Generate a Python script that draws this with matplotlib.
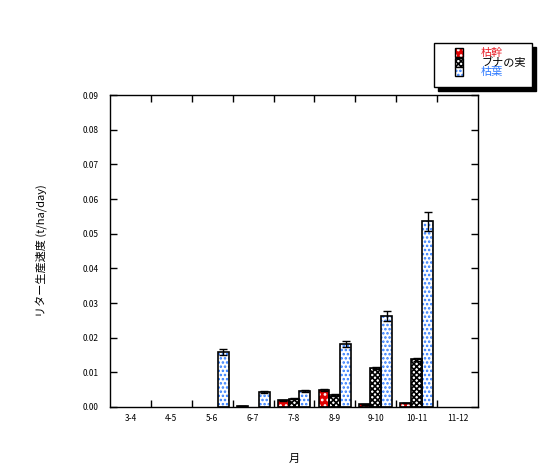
import numpy as np
import matplotlib
matplotlib.use("Agg")
import matplotlib.pyplot as plt
from matplotlib.patches import Patch, Rectangle

plt.rcParams['font.family'] = ['Noto Sans CJK JP', 'DejaVu Sans']
plt.rcParams['hatch.linewidth'] = 1.2

months = ['3-4', '4-5', '5-6', '6-7', '7-8', '8-9', '9-10', '10-11', '11-12']
series = ['枯幹', 'ブナの実', '枯葉']
nan = np.nan

# litter production rate (t/ha/day)
kare_miki = [nan, nan, nan, 0.0002, 0.0019, 0.0049, 0.0008, 0.00115, nan]
buna_mi = [nan, nan, nan, nan, 0.0024, 0.0035, 0.0112, 0.01375, nan]
kare_ha = [nan, nan, 0.0158, 0.0042, 0.0045, 0.0181, 0.0262, 0.0536, nan]

kare_miki_err = [nan, nan, nan, 0.0, 0.0001, 0.0002, 0.0001, 0.0001, nan]
buna_mi_err = [nan, nan, nan, nan, 0.0002, 0.0002, 0.0003, 0.0005, nan]
kare_ha_err = [nan, nan, 0.0008, 0.0003, 0.0003, 0.0008, 0.0014, 0.0027, nan]

values = [kare_miki, buna_mi, kare_ha]
errors = [kare_miki_err, buna_mi_err, kare_ha_err]
face = ['#e00000', 'white', 'white']
hatch_col = ['white', 'black', '#2f7bff']
hatches = ['...', 'xxxxxx', '....']
text_col = ['#e8202a', 'black', '#2f7bff']

fig = plt.figure(figsize=(5.52, 4.69), dpi=100)
ax = fig.add_axes([0.1993, 0.1322, 0.6667, 0.6652])

x = np.arange(len(months))
w = 0.267
for i in range(3):
    pos = x + (i - 1) * w
    # hatch layer, then black outline on top
    ax.bar(pos, values[i], w, color=face[i], edgecolor=hatch_col[i],
           hatch=hatches[i], linewidth=0, zorder=2)
    ax.bar(pos, values[i], w, fill=False, edgecolor='black', linewidth=1.2, zorder=3)
    ax.errorbar(pos, values[i], yerr=errors[i], fmt='none', ecolor='black',
                elinewidth=1, capsize=3, capthick=1, zorder=4)

ax.set_xlim(-0.5, len(months) - 0.5)
ax.set_ylim(0, 0.09)
ax.set_yticks(np.arange(0, 0.0901, 0.01))
ax.set_yticklabels(['%.2f' % v for v in np.arange(0, 0.0901, 0.01)])
ax.set_xticks(x)
ax.set_xticklabels(months)
ax.set_xticks(np.arange(0.5, len(months) - 1, 1), minor=True)
ax.tick_params(axis='x', which='major', length=0, labelsize=6, pad=5)
ax.tick_params(axis='x', which='minor', direction='in', length=5, top=True, width=1)
ax.tick_params(axis='y', direction='in', length=5, right=True, labelsize=6, pad=8, width=1)
for s in ax.spines.values():
    s.set_linewidth(1)

ax.set_xlabel('月', fontsize=8, labelpad=22)
ax.set_ylabel('リター生産速度 (t/ha/day)', fontsize=8, labelpad=26)

# legend frame with a solid shadow, drawn by hand
sx, sy = 4 / 552, 4 / 469
x0, y0, fw, fh = 434 / 552, 1 - 87 / 469, 98 / 552, 44 / 469
fig.add_artist(Rectangle((x0 + sx, y0 - sy), fw, fh, transform=fig.transFigure,
                         facecolor='black', edgecolor='black', zorder=5))
fig.add_artist(Rectangle((x0, y0), fw, fh, transform=fig.transFigure,
                         facecolor='white', edgecolor='black', linewidth=1, zorder=6))

handles = [(Patch(facecolor=face[i], edgecolor=hatch_col[i], hatch=hatches[i], linewidth=0),
            Patch(fill=False, edgecolor='black', linewidth=1)) for i in range(3)]
leg = fig.legend(handles, series, loc='upper left', bbox_to_anchor=(455 / 552, 1 - 48 / 469),
                 fontsize=8, frameon=False, handlelength=0.75, handleheight=0.9,
                 labelspacing=-0.1, borderpad=0, borderaxespad=0, handletextpad=1.6)
leg.set_zorder(7)
for t, c in zip(leg.get_texts(), text_col):
    t.set_color(c)

fig.savefig('out.png', dpi=100)
